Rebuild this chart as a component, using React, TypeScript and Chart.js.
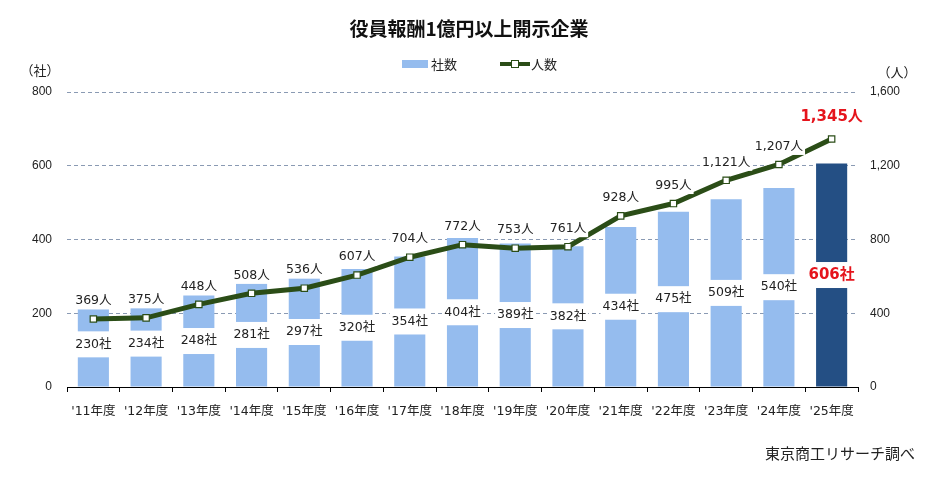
import React, { useEffect, useRef } from "react";
import { Chart, registerables } from "chart.js";

Chart.register(...registerables);

const categories = ["'11年度", "'12年度", "'13年度", "'14年度", "'15年度", "'16年度", "'17年度", "'18年度", "'19年度", "'20年度", "'21年度", "'22年度", "'23年度", "'24年度", "'25年度"];
const companies = [230, 234, 248, 281, 297, 320, 354, 404, 389, 382, 434, 475, 509, 540, 606];
const people = [369, 375, 448, 508, 536, 607, 704, 772, 753, 761, 928, 995, 1121, 1207, 1345];
const leftTicks = [0, 200, 400, 600, 800];
const rightTicks = [0, 400, 800, 1200, 1600];

const TITLE = "役員報酬1億円以上開示企業";
const SOURCE = "東京商工リサーチ調べ";
const FONT = "'DejaVu Sans', 'Noto Sans CJK JP', sans-serif";
const TICKFONT = "'Liberation Sans', 'Noto Sans CJK JP', sans-serif";
const CJK = "'Noto Sans CJK JP', sans-serif";
const BAR = "#95bcee";
const BAR_LAST = "#244f84";
const LINE = "#2b4d17";
const RED = "#e5141c";
const GRID = "#8a9ab3";

const fmt = (v: number) => v.toLocaleString("en-US");

export default function App() {
  const ref = useRef<HTMLCanvasElement | null>(null);
  useEffect(() => {
    document.body.style.margin = "0";
    const canvas = ref.current;
    if (!canvas) return;
    const last = categories.length - 1;

    const drawBox = (ctx: CanvasRenderingContext2D, text: string, x: number, y: number, font: string, color: string, h: number) => {
      ctx.font = font;
      const w = ctx.measureText(text).width + 4;
      ctx.fillStyle = "#ffffff";
      ctx.fillRect(x - w / 2, y - h / 2, w, h);
      ctx.fillStyle = color;
      ctx.textAlign = "center";
      ctx.textBaseline = "middle";
      ctx.fillText(text, x, y);
    };

    const deco = {
      id: "deco",
      afterDatasetDraw(chart: any, args: any) {
        if (args.index !== 0) return;
        const ctx = chart.ctx;
        const meta = chart.getDatasetMeta(0);
        ctx.save();
        meta.data.forEach((bar: any, i: number) => {
          const y = (bar.y + bar.base) / 2;
          const isLast = i === last;
          drawBox(ctx, companies[i] + "社", bar.x, y, (isLast ? "bold 15px " : "12.5px ") + FONT, isLast ? RED : "#222", 26);
        });
        ctx.restore();
      },
      afterDatasetsDraw(chart: any) {
        const ctx = chart.ctx;
        const meta = chart.getDatasetMeta(1);
        ctx.save();
        meta.data.forEach((pt: any, i: number) => {
          const isLast = i === last;
          drawBox(ctx, fmt(people[i]) + "人", pt.x, pt.y - (isLast ? 22 : 18), (isLast ? "bold 15px " : "12.5px ") + FONT, isLast ? RED : "#222", 17);
        });
        ctx.restore();
      },
      afterDraw(chart: any) {
        const ctx = chart.ctx;
        ctx.save();
        ctx.fillStyle = "#111";
        ctx.textAlign = "center";
        ctx.textBaseline = "middle";
        ctx.font = "bold 19px " + CJK;
        ctx.fillText(TITLE, 469, 29);
        // legend
        ctx.fillStyle = BAR;
        ctx.fillRect(402, 60, 26, 8);
        ctx.fillStyle = "#222";
        ctx.font = "13px " + CJK;
        ctx.textAlign = "left";
        ctx.fillText("社数", 431, 64);
        ctx.strokeStyle = LINE;
        ctx.lineWidth = 4;
        ctx.beginPath();
        ctx.moveTo(500, 64);
        ctx.lineTo(530, 64);
        ctx.stroke();
        ctx.fillStyle = "#fff";
        ctx.lineWidth = 1;
        ctx.fillRect(511.5, 60.5, 7, 7);
        ctx.strokeRect(511.5, 60.5, 7, 7);
        ctx.fillStyle = "#222";
        ctx.fillText("人数", 531, 64);
        // units
        ctx.textAlign = "center";
        ctx.fillText("（社）", 40, 70);
        ctx.fillText("（人）", 897, 72);
        // source
        ctx.font = "15px " + CJK;
        ctx.textAlign = "right";
        ctx.fillText(SOURCE, 915, 453);
        ctx.restore();
      },
    };

    const chart = new Chart(canvas, {
      type: "bar",
      data: {
        labels: categories,
        datasets: [
          {
            type: "bar",
            label: "社数",
            data: companies,
            yAxisID: "y",
            backgroundColor: companies.map((_, i) => (i === last ? BAR_LAST : BAR)),
            categoryPercentage: 1,
            barPercentage: 0.59,
            order: 1,
          },
          {
            type: "line",
            label: "人数",
            data: people,
            yAxisID: "y1",
            borderColor: LINE,
            borderWidth: 5,
            pointStyle: "rect",
            pointRadius: 4.5,
            pointBackgroundColor: "#fff",
            pointBorderColor: LINE,
            pointBorderWidth: 1.2,
            tension: 0,
            order: 0,
          } as any,
        ],
      },
      options: {
        animation: false,
        responsive: false,
        maintainAspectRatio: false,
        layout: { padding: { top: 92, left: 0, right: 0, bottom: 0 } },
        plugins: { legend: { display: false }, tooltip: { enabled: false }, title: { display: false } },
        scales: {
          x: {
            grid: { display: true, drawOnChartArea: false, drawTicks: true, tickLength: 5, color: "#000", offset: true },
            border: { display: true, color: "#000", width: 1 },
            ticks: { color: "#222", font: { size: 12.5, family: FONT }, padding: 12, maxRotation: 0, autoSkip: false },
            afterFit: (s: any) => { s.height = 92; },
          },
          y: {
            position: "left",
            min: 0,
            max: 800,
            afterBuildTicks: (s: any) => { s.ticks = leftTicks.map((v) => ({ value: v })); },
            grid: {
              drawTicks: false,
              color: (c: any) => (c.tick && c.tick.value === 0 ? "rgba(0,0,0,0)" : GRID),
              lineWidth: 1,
            },
            border: { display: false, dash: [4, 3] },
            ticks: { color: "#222", font: { size: 12, family: TICKFONT }, padding: 15, callback: (v: any) => fmt(Number(v)) },
            afterFit: (s: any) => { s.width = 67; },
          },
          y1: {
            position: "right",
            min: 0,
            max: 1600,
            afterBuildTicks: (s: any) => { s.ticks = rightTicks.map((v) => ({ value: v })); },
            grid: { display: false, drawTicks: false },
            border: { display: false },
            ticks: { color: "#222", font: { size: 12, family: TICKFONT }, padding: 12, callback: (v: any) => fmt(Number(v)) },
            afterFit: (s: any) => { s.width = 80; },
          },
        },
      } as any,
      plugins: [deco],
    });
    return () => chart.destroy();
  }, []);

  return (
    <div style={{ position: "absolute", left: 0, top: 0, width: 938, height: 479, background: "#fff" }}>
      <canvas ref={ref} width={938} height={479} style={{ width: 938, height: 479, display: "block" }} />
    </div>
  );
}
